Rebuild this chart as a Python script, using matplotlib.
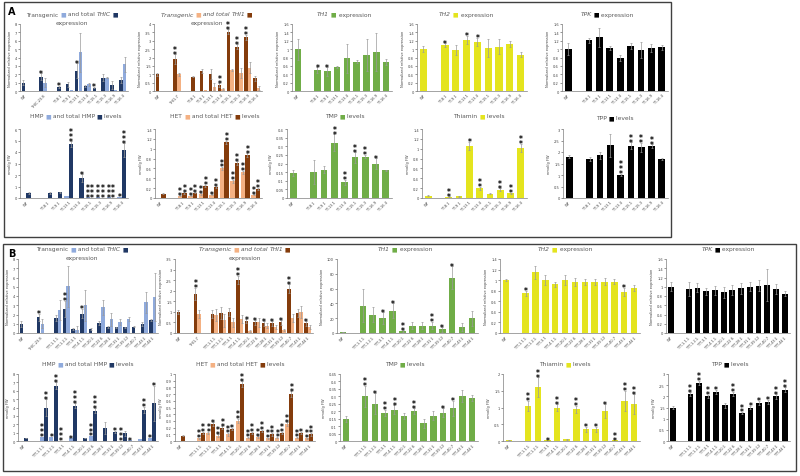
import numpy as np
import matplotlib
matplotlib.use('Agg')
import matplotlib.pyplot as plt
from matplotlib.patches import Rectangle

nan = np.nan
W, H = 800, 477

# ---------------- colours ----------------
NAVY, LBLUE = '#203864', '#8faadc'
BROWN, PEACH = '#843c0c', '#f4b183'
GREEN, YELLOW, BLACK = '#70ad47', '#e4e41e', '#000000'

# ---------------- panel A data ----------------
A_cats_thic = ['WT', '', 'THIC-23.8', '', 'TT-8.1', 'TT-9.1', 'TT-13.1', 'TT-13.4', 'TT-15.1', 'TT-15.3', 'TT-16.9', 'TT-16.4']
A_thic_total = [1.0, nan, 1.7, nan, 0.5, 0.8, 2.4, 0.6, 0.4, 1.6, 0.7, 1.3]
A_thic_total_err = [0.3, 0, 0.4, 0, 0.1, 0.3, 0.9, 0.15, 0.1, 0.4, 0.5, 0.4]
A_thic_total_st = [0, 0, 1, 0, 1, 0, 1, 0, 1, 0, 0, 0]
A_thic_trans = [nan, nan, 1.0, nan, 0.02, 0.15, 4.6, 0.8, 0.05, 1.6, 0.1, 3.2]
A_thic_trans_err = [0, 0, 0.5, 0, 0, 0, 2.3, 0.2, 0, 0.1, 0, 0.9]

A_cats_thi1 = ['WT', '', 'THI1-7', '', 'TT-8.1', 'TT-9.1', 'TT-13.1', 'TT-13.4', 'TT-15.1', 'TT-15.3', 'TT-16.9', 'TT-16.4']
A_thi1_total = [1.0, nan, 1.9, nan, 0.86, 1.2, 1.0, 0.36, 3.55, 2.65, 3.2, 0.75]
A_thi1_total_err = [0.1, 0, 0.3, 0, 0.05, 0.1, 0.3, 0.1, 0.15, 0.15, 0.15, 0.15]
A_thi1_total_st = [0, 0, 2, 0, 0, 0, 0, 2, 2, 2, 2, 0]
A_thi1_trans = [nan, nan, 1.0, nan, 0.02, 0.03, 0.26, 0.1, 1.26, 1.1, 1.4, 0.18]
A_thi1_trans_err = [0, 0, 0.1, 0, 0, 0, 0.2, 0.05, 0.05, 0.3, 0.35, 0.1]

A_cats = ['WT', '', 'TT-8.1', 'TT-9.1', 'TT-13.1', 'TT-13.4', 'TT-15.1', 'TT-15.3', 'TT-16.9', 'TT-16.4']
A_th1 = [1.0, nan, 0.5, 0.47, 0.58, 0.78, 0.7, 0.85, 0.93, 0.7]
A_th1_err = [0.25, 0, 0.07, 0.1, 0.02, 0.35, 0.04, 0.38, 0.45, 0.07]
A_th1_st = [0, 0, 1, 1, 0, 0, 0, 0, 0, 0]
A_th2 = [1.0, nan, 1.1, 0.98, 1.22, 1.17, 1.03, 1.06, 1.12, 0.87]
A_th2_err = [0.07, 0, 0.04, 0.12, 0.1, 0.1, 0.22, 0.17, 0.07, 0.06]
A_th2_st = [0, 0, 1, 0, 1, 1, 0, 0, 0, 0]
A_tpk = [1.0, nan, 1.21, 1.28, 1.03, 0.79, 1.07, 0.98, 1.02, 1.04]
A_tpk_err = [0.15, 0, 0.06, 0.22, 0.04, 0.07, 0.07, 0.18, 0.1, 0.05]

A_hmp_trans = [0.02, nan, 0.02, 0.02, 0.15, 0.03, 0.05, 0.05, 0.05, 0.12]
A_hmp_trans_st = [0, 0, 0, 0, 0, 0, 3, 3, 3, 1]
A_hmp_total = [0.43, nan, 0.43, 0.5, 4.7, 1.73, 0.03, 0.03, 0.03, 4.15]
A_hmp_total_err = [0.05, 0, 0.05, 0.05, 0.25, 0.35, 0, 0, 0, 0.6]
A_hmp_total_st = [0, 0, 0, 0, 3, 1, 3, 3, 3, 3]

A_het_trans = [0.0, nan, 0.05, 0.05, 0.08, 0.07, 0.6, 0.34, 0.52, 0.07]
A_het_trans_err = [0, 0, 0.01, 0.01, 0.02, 0.01, 0.03, 0.03, 0.03, 0.01]
A_het_trans_st = [0, 0, 2, 2, 2, 1, 2, 2, 2, 2]
A_het_total = [0.09, nan, 0.1, 0.11, 0.25, 0.22, 1.13, 0.71, 0.87, 0.19]
A_het_total_err = [0.01, 0, 0.02, 0.01, 0.02, 0.02, 0.03, 0.04, 0.04, 0.02]
A_het_total_st = [0, 0, 2, 2, 2, 2, 2, 2, 2, 2]

A_tmp = [0.145, nan, 0.15, 0.165, 0.32, 0.09, 0.235, 0.24, 0.2, 0.16]
A_tmp_err = [0.02, 0, 0.07, 0.02, 0.05, 0.015, 0.03, 0.01, 0.03, 0.005]
A_tmp_st = [0, 0, 0, 0, 2, 2, 2, 2, 1, 0]
A_thiamin = [0.05, nan, 0.03, 0.04, 1.06, 0.2, 0.09, 0.17, 0.1, 1.02]
A_thiamin_err = [0.01, 0, 0.01, 0.01, 0.08, 0.03, 0.01, 0.03, 0.01, 0.08]
A_thiamin_st = [0, 0, 2, 0, 1, 2, 0, 2, 2, 2]
A_tpp = [1.8, nan, 1.7, 1.85, 2.3, 1.0, 2.28, 2.2, 2.25, 1.7]
A_tpp_err = [0.06, 0, 0.1, 0.15, 0.5, 0.05, 0.15, 0.2, 0.08, 0.05]
A_tpp_st = [0, 0, 0, 0, 0, 3, 2, 2, 2, 0]

# ---------------- panel B data ----------------
B_lines = ['TTT-1.1.1', 'TTT-1.2.1', 'TTT-3.1', 'TTT-4.1.1', 'TTT-20.1', 'TTT-22.6', 'TTT-28.1',
           'TTT-31.1', 'TTT-39.12', 'TTT-40.7', 'TTT-43.1', 'TTT-44.1']
B_cats_thic = ['WT', '', 'THIC-23.8', ''] + B_lines
B_thic_total = [1.0, nan, 1.7, nan, 1.6, 2.6, 0.47, 2.1, 0.4, 1.1, 0.65, 0.6, 0.6, 0.7, 1.0, 1.45]
B_thic_total_err = [0.3, 0, 0.4, 0, 0.3, 0.9, 0.1, 0.5, 0.1, 0.2, 0.1, 0.1, 0.1, 0.05, 0.2, 0.1]
B_thic_total_st = [0, 0, 1, 0, 0, 2, 0, 1, 0, 0, 0, 0, 0, 0, 0, 0]
B_thic_trans = [nan, nan, 1.0, nan, 2.5, 5.05, 0.36, 3.0, 0.02, 2.8, 1.5, 1.2, 1.55, 0.02, 3.3, 3.85]
B_thic_trans_err = [0, 0, 0.5, 0, 1.1, 2.2, 0.4, 1.7, 0, 0.8, 0.7, 0.3, 0.2, 0, 1.1, 2.6]

B_cats_thi1 = ['WT', '', 'THI1-7', ''] + B_lines
B_thi1_total = [1.0, nan, 1.85, nan, 0.9, 0.95, 1.0, 2.5, 0.55, 0.5, 0.45, 0.45, 0.5, 2.1, 0.95, 0.45]
B_thi1_total_err = [0.1, 0, 0.3, 0, 0.2, 0.3, 0.2, 0.2, 0.1, 0.1, 0.1, 0.1, 0.1, 0.2, 0.2, 0.1]
B_thi1_total_st = [0, 0, 2, 0, 0, 0, 0, 2, 1, 1, 1, 1, 1, 2, 0, 1]
B_thi1_trans = [nan, nan, 0.9, nan, 0.85, 0.6, 0.5, 0.65, 0.1, 0.5, 0.35, 0.3, 0.15, 0.7, 1.0, 0.3]
B_thi1_trans_err = [0, 0, 0.2, 0, 0.3, 0.3, 0.2, 0.2, 0.05, 0.2, 0.1, 0.1, 0.05, 0.2, 0.3, 0.1]

B_cats = ['WT', ''] + B_lines
B_th1 = [1.0, nan, 37, 25, 20, 30, 3, 10, 10, 10, 5, 75, 8, 20]
B_th1_err = [0.3, 0, 22, 10, 8, 10, 1, 5, 5, 5, 3, 15, 5, 10]
B_th1_st = [0, 0, 0, 0, 1, 1, 2, 0, 0, 2, 1, 1, 0, 0]
B_th2 = [1.0, nan, 0.75, 1.15, 1.0, 0.92, 1.0, 0.97, 0.97, 0.97, 0.97, 0.97, 0.78, 0.85]
B_th2_err = [0.02, 0, 0.05, 0.12, 0.1, 0.05, 0.1, 0.08, 0.06, 0.06, 0.07, 0.05, 0.08, 0.06]
B_th2_st = [0, 0, 1, 0, 0, 0, 0, 0, 0, 0, 0, 0, 1, 0]
B_tpk = [1.0, nan, 0.95, 0.98, 0.9, 0.92, 0.88, 0.93, 0.97, 1.0, 1.02, 1.04, 0.95, 0.85]
B_tpk_err = [0.1, 0, 0.15, 0.1, 0.08, 0.1, 0.12, 0.1, 0.12, 0.1, 0.12, 0.35, 0.1, 0.05]

B_hmp_trans = [0.02, nan, 0.5, 0.5, 0.02, 0.3, 0.02, 0.6, 0.02, 0.02, 0.02, 0.1, 0.2, 0.4]
B_hmp_trans_st = [0, 0, 3, 1, 3, 1, 0, 3, 0, 0, 3, 1, 0, 1]
B_hmp_total = [0.36, nan, 4.0, 6.6, 0.02, 4.2, 0.36, 3.6, 1.55, 1.1, 0.95, 0.02, 3.7, 4.5]
B_hmp_total_err = [0.05, 0, 1.0, 0.4, 0, 0.3, 0.05, 0.3, 0.7, 0.1, 0.3, 0, 0.4, 2.1]
B_hmp_total_st = [0, 0, 2, 2, 0, 3, 0, 3, 0, 1, 0, 0, 2, 1]

B_het_trans = [0.0, nan, 0.04, 0.12, 0.08, 0.1, 0.3, 0.05, 0.06, 0.04, 0.05, 0.25, 0.05, 0.04]
B_het_trans_err = [0, 0, 0.01, 0.02, 0.02, 0.02, 0.03, 0.01, 0.01, 0.01, 0.01, 0.03, 0.01, 0.01]
B_het_trans_st = [0, 0, 2, 2, 2, 2, 2, 2, 2, 2, 2, 2, 2, 2]
B_het_total = [0.08, nan, 0.12, 0.25, 0.2, 0.18, 0.85, 0.12, 0.15, 0.1, 0.12, 0.7, 0.12, 0.1]
B_het_total_err = [0.01, 0, 0.02, 0.03, 0.02, 0.02, 0.04, 0.02, 0.02, 0.02, 0.02, 0.04, 0.02, 0.02]
B_het_total_st = [0, 0, 2, 1, 2, 1, 2, 2, 2, 2, 2, 2, 1, 2]

B_tmp = [0.15, nan, 0.3, 0.25, 0.19, 0.21, 0.17, 0.2, 0.12, 0.17, 0.19, 0.22, 0.3, 0.29]
B_tmp_err = [0.02, 0, 0.07, 0.07, 0.02, 0.03, 0.02, 0.02, 0.03, 0.03, 0.03, 0.05, 0.04, 0.02]
B_tmp_st = [0, 0, 2, 1, 2, 2, 0, 2, 0, 0, 1, 1, 0, 0]
B_thiamin = [0.03, nan, 1.05, 1.6, 0.02, 1.0, 0.05, 0.95, 0.35, 0.35, 0.9, 0.02, 1.2, 1.1]
B_thiamin_err = [0.01, 0, 0.15, 0.3, 0, 0.1, 0.01, 0.1, 0.08, 0.08, 0.2, 0, 0.3, 0.3]
B_thiamin_st = [0, 0, 2, 2, 1, 2, 0, 2, 1, 1, 1, 2, 2, 2]
B_tpp = [1.5, nan, 2.1, 2.6, 2.0, 2.2, 1.6, 2.1, 1.25, 1.5, 1.7, 1.75, 2.0, 2.3]
B_tpp_err = [0.05, 0, 0.08, 0.1, 0.08, 0.1, 0.1, 0.1, 0.05, 0.08, 0.1, 0.1, 0.1, 0.1]
B_tpp_st = [0, 0, 2, 2, 2, 1, 0, 2, 2, 1, 1, 1, 2, 2]

# ---------------- drawing ----------------
fig = plt.figure(figsize=(8, 4.77), dpi=100)
ov = fig.add_axes([0, 0, 1, 1], zorder=10)
ov.set_xlim(0, W)
ov.set_ylim(H, 0)
ov.axis('off')

EXPR = 'Normalized relative expression'
LEV = 'nmol/g FW'


def rect(x0, y0, x1, y1):
    return [x0 / W, 1 - y1 / H, (x1 - x0) / W, (y1 - y0) / H]


def panel(box, cats, series, ymax, ystep, ylabel):
    ax = fig.add_axes(rect(*box))
    x = np.arange(len(cats))
    n = len(series)
    width = 0.66 if n == 1 else 0.4
    offs = [0.0] if n == 1 else [-0.21, 0.21]
    for (vals, errs, color, stars), off in zip(series, offs):
        vals = np.array(vals, float)
        errs = np.array(errs, float)
        ax.bar(x + off, np.nan_to_num(vals), width, color=color, zorder=2)
        m = ~np.isnan(vals) & (errs > 0)
        ax.errorbar((x + off)[m], vals[m], yerr=errs[m], fmt='none', ecolor='#9a9a9a',
                    elinewidth=0.5, capsize=0.8, capthick=0.5, zorder=3)
        for xi, v, e, s in zip(x + off, vals, errs, stars):
            if s and not np.isnan(v):
                ax.annotate('\n'.join(['*'] * s), xy=(xi, v + e), xytext=(0, -1.8),
                            textcoords='offset points', ha='center', va='baseline',
                            fontsize=5.5, fontweight='bold', linespacing=0.42,
                            color='black', zorder=4, annotation_clip=False)
    ax.set_xlim(-0.6, len(cats) - 0.4)
    ax.set_ylim(0, ymax)
    ticks = np.arange(0, ymax + ystep / 2, ystep)
    ax.set_yticks(ticks)
    ax.set_yticklabels(['{:g}'.format(round(t, 3)) for t in ticks])
    ax.set_xticks(x)
    ax.set_xticklabels(cats, rotation=45, ha='right', rotation_mode='anchor')
    ax.tick_params(axis='x', length=0, labelsize=2.6, pad=1.5, colors='#444444')
    ax.tick_params(axis='y', length=1.2, width=0.4, labelsize=2.6, pad=1, colors='#444444')
    for s in ['top', 'right']:
        ax.spines[s].set_visible(False)
    for s in ['left', 'bottom']:
        ax.spines[s].set_linewidth(0.5)
        ax.spines[s].set_color('#7f7f7f')
    ax.set_ylabel(ylabel, fontsize=2.6, labelpad=2, color='#444444')
    return ax


def title(cx, y, pieces, fs=4.3):
    texts = []
    for i, (s, c, st) in enumerate(pieces):
        if i == 0:
            t = ov.text(cx, y, s, color=c, fontstyle=st, fontsize=fs, ha='left', va='center')
        else:
            t = ov.annotate(s, xy=(1, 0), xycoords=texts[-1], color=c, fontstyle=st,
                            fontsize=fs, ha='left', va='bottom')
        texts.append(t)
    fig.canvas.draw()
    r = fig.canvas.get_renderer()
    b0 = texts[0].get_window_extent(r)
    b1 = texts[-1].get_window_extent(r)
    width = b1.x1 - b0.x0
    texts[0].set_x(cx - width / 2)


G = '#595959'


def pair_title(cx, y, gene, word, light, dark, italic_all=False):
    st = 'italic' if italic_all else 'normal'
    title(cx, y, [('Transgenic ', G, st), ('■', light, 'normal'), (' and total ', G, st),
                  (gene, G, 'italic'), (' ■', dark, 'normal')])
    title(cx, y + 8.5, [(word, G, 'normal')])


def gene_title(cx, y, gene, color, word, italic=True):
    title(cx, y, [(gene, G, 'italic' if italic else 'normal'), (' ■', color, 'normal'),
                  (' ' + word, G, 'normal')])


def lev_pair_title(cx, y, name, light, dark):
    title(cx, y, [(name + ' ', G, 'normal'), ('■', light, 'normal'), (' and total ' + name + ' ', G, 'normal'),
                  ('■', dark, 'normal'), (' levels', G, 'normal')])


# ---- Panel A ----
ov.add_patch(Rectangle((4, 3), 667, 235, fill=False, lw=1.0, ec='#404040'))
ov.text(8, 12, 'A', fontsize=7, fontweight='bold', ha='left', va='center')

panel((20, 25, 128, 92), A_cats_thic,
      [(A_thic_total, A_thic_total_err, NAVY, A_thic_total_st),
       (A_thic_trans, A_thic_trans_err, LBLUE, [0] * 12)], 8, 1, EXPR)
pair_title(72, 15, 'THIC', 'expression', LBLUE, NAVY)

panel((154, 25, 262, 92), A_cats_thi1,
      [(A_thi1_total, A_thi1_total_err, BROWN, A_thi1_total_st),
       (A_thi1_trans, A_thi1_trans_err, PEACH, [0] * 12)], 4, 0.5, EXPR)
pair_title(207, 15, 'THI1', 'expression', PEACH, BROWN, italic_all=True)

panel((292, 25, 392, 92), A_cats, [(A_th1, A_th1_err, GREEN, A_th1_st)], 1.6, 0.2, EXPR)
gene_title(344, 15, 'TH1', GREEN, 'expression')
panel((417, 25, 527, 92), A_cats, [(A_th2, A_th2_err, YELLOW, A_th2_st)], 1.6, 0.2, EXPR)
gene_title(466, 15, 'TH2', YELLOW, 'expression')
panel((562, 25, 668, 92), A_cats, [(A_tpk, A_tpk_err, BLACK, [0] * 10)], 1.6, 0.2, EXPR)
gene_title(607, 15, 'TPK', BLACK, 'expression')

panel((20, 130, 128, 199), A_cats,
      [(A_hmp_trans, [0] * 10, LBLUE, A_hmp_trans_st),
       (A_hmp_total, A_hmp_total_err, NAVY, A_hmp_total_st)], 6, 1, LEV)
lev_pair_title(76, 117, 'HMP', LBLUE, NAVY)
panel((155, 130, 262, 199), A_cats,
      [(A_het_trans, A_het_trans_err, PEACH, A_het_trans_st),
       (A_het_total, A_het_total_err, BROWN, A_het_total_st)], 1.4, 0.2, LEV)
lev_pair_title(215, 117, 'HET', PEACH, BROWN)
panel((287, 130, 392, 199), A_cats, [(A_tmp, A_tmp_err, GREEN, A_tmp_st)], 0.4, 0.05, LEV)
gene_title(345, 117, 'TMP', GREEN, 'levels', italic=False)
panel((422, 130, 527, 199), A_cats, [(A_thiamin, A_thiamin_err, YELLOW, A_thiamin_st)], 1.4, 0.2, LEV)
gene_title(479, 117, 'Thiamin', YELLOW, 'levels', italic=False)
panel((563, 130, 668, 199), A_cats, [(A_tpp, A_tpp_err, BLACK, A_tpp_st)], 3, 0.5, LEV)
gene_title(615, 119, 'TPP', BLACK, 'levels', italic=False)

# ---- Panel B ----
ov.add_patch(Rectangle((3, 245), 793, 227, fill=False, lw=1.0, ec='#404040'))
ov.text(8, 254, 'B', fontsize=7, fontweight='bold', ha='left', va='center')

panel((18, 260, 158, 334), B_cats_thic,
      [(B_thic_total, B_thic_total_err, NAVY, B_thic_total_st),
       (B_thic_trans, B_thic_trans_err, LBLUE, [0] * 16)], 8, 1, EXPR)
pair_title(82, 250, 'THIC', 'expression', LBLUE, NAVY)
panel((175, 260, 313, 334), B_cats_thi1,
      [(B_thi1_total, B_thi1_total_err, BROWN, B_thi1_total_st),
       (B_thi1_trans, B_thi1_trans_err, PEACH, [0] * 16)], 3.5, 0.5, EXPR)
pair_title(245, 250, 'THI1', 'expression', PEACH, BROWN, italic_all=True)
panel((337, 260, 478, 334), B_cats, [(B_th1, B_th1_err, GREEN, B_th1_st)], 100, 20, EXPR)
gene_title(405, 250, 'TH1', GREEN, 'expression')
panel((500, 260, 640, 334), B_cats, [(B_th2, B_th2_err, YELLOW, B_th2_st)], 1.4, 0.2, EXPR)
gene_title(565, 250, 'TH2', YELLOW, 'expression')
panel((666, 260, 790, 334), B_cats, [(B_tpk, B_tpk_err, BLACK, [0] * 14)], 1.6, 0.2, EXPR)
gene_title(728, 250, 'TPK', BLACK, 'expression')

panel((18, 375, 158, 442), B_cats,
      [(B_hmp_trans, [0] * 14, LBLUE, B_hmp_trans_st),
       (B_hmp_total, B_hmp_total_err, NAVY, B_hmp_total_st)], 8, 1, LEV)
lev_pair_title(88, 365, 'HMP', LBLUE, NAVY)
panel((175, 375, 315, 442), B_cats,
      [(B_het_trans, B_het_trans_err, PEACH, B_het_trans_st),
       (B_het_total, B_het_total_err, BROWN, B_het_total_st)], 1.0, 0.1, LEV)
lev_pair_title(240, 365, 'HET', PEACH, BROWN)
panel((340, 375, 478, 442), B_cats, [(B_tmp, B_tmp_err, GREEN, B_tmp_st)], 0.45, 0.05, LEV)
gene_title(405, 365, 'TMP', GREEN, 'levels', italic=False)
panel((503, 375, 640, 442), B_cats, [(B_thiamin, B_thiamin_err, YELLOW, B_thiamin_st)], 2, 0.5, LEV)
gene_title(565, 365, 'Thiamin', YELLOW, 'levels', italic=False)
panel((668, 375, 790, 442), B_cats, [(B_tpp, B_tpp_err, BLACK, B_tpp_st)], 3, 0.5, LEV)
gene_title(730, 365, 'TPP', BLACK, 'levels', italic=False)

fig.savefig('out.png', dpi=100)
